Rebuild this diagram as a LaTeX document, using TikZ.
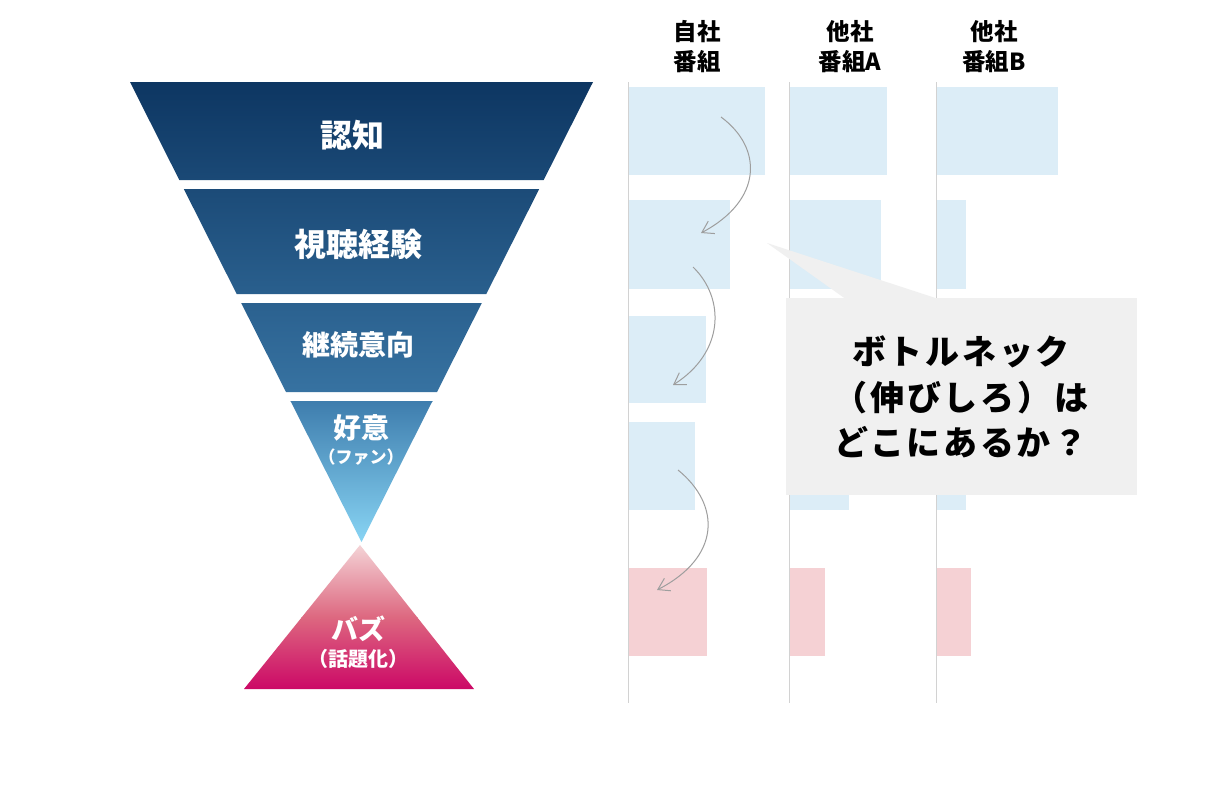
\documentclass[tikz,border=0pt]{standalone}
\usepackage{fontspec}
\setmainfont{Noto Sans CJK JP}
\usetikzlibrary{arrows.meta}
\definecolor{barblue}{HTML}{DCEDF7}
\definecolor{barpink}{HTML}{F5D1D4}
\definecolor{fnavy}{HTML}{0D3662}
\definecolor{fmid}{HTML}{3874A3}
\definecolor{fmidb}{HTML}{3E7DAD}
\definecolor{flight}{HTML}{88D4F4}
\definecolor{ppale}{HTML}{F4D3D6}
\definecolor{prose}{HTML}{DD6880}
\definecolor{pdeep}{HTML}{CC0866}
\definecolor{callgray}{HTML}{F0F0F0}
\definecolor{axisgray}{HTML}{D2D2D2}
\definecolor{arrowgray}{HTML}{9E9E9E}
\begin{document}
\begin{tikzpicture}[x=1pt,y=-1pt,
  stagetext/.style={text=white,font=\bfseries\fontsize{#1}{#1}\selectfont,inner sep=0pt},
  subtext/.style={text=white,font=\bfseries\fontsize{#1}{#1}\selectfont,inner sep=0pt},
  headtext/.style={text=black,font=\bfseries\fontsize{23.5}{30}\selectfont,align=center,inner sep=0pt},
  bluebar/.style={fill=barblue},
  pinkbar/.style={fill=barpink},
  axisline/.style={draw=axisgray,line width=1pt},
  flowarrow/.style={draw=arrowgray,line width=1pt,-{Straight Barb[length=11pt,width=14pt,line width=1pt]}},
  calloutbox/.style={fill=callgray,draw=none},
  calltext/.style={text=black,font=\bfseries\fontsize{34}{45.5}\selectfont\addfontfeature{LetterSpace=8},align=center,inner sep=0pt}
]
\useasboundingbox (0,0) rectangle (1212,784);
\fill[white] (0,0) rectangle (1212,784);

% ---------------- funnel ----------------
\begin{scope}
\clip (130,82) -- (593,82) -- (543.7,180) -- (179.3,180) -- cycle
      (183.8,189) -- (539.2,189) -- (486.3,294) -- (236.7,294) -- cycle
      (241.2,303) -- (481.8,303) -- (437,392) -- (286,392) -- cycle
      (290.5,401) -- (432.5,401) -- (361.5,542) -- cycle;
\shade[top color=fnavy, bottom color=fmid] (120,82) rectangle (600,401);
\shade[top color=fmidb, bottom color=flight] (120,401) rectangle (600,542);
\end{scope}

% ---------------- buzz triangle ----------------
\begin{scope}
\clip (360,545) -- (474,689) -- (244,689) -- cycle;
\shade[top color=ppale, bottom color=prose] (230,545) rectangle (490,617);
\shade[top color=prose, bottom color=pdeep] (230,617) rectangle (490,689);
\end{scope}

\node[stagetext=32] (s1) at (352,135) {認知};
\node[stagetext=32] (s2) at (358,244) {視聴経験};
\node[stagetext=28] (s3) at (358,345) {継続意向};
\node[stagetext=28] (s4) at (361,428) {好意};
\node[subtext=17] (s4b) at (361,457) {（ファン）};
\node[stagetext=27] (s5) at (358,629) {バズ};
\node[subtext=20] (s5b) at (358,659) {（話題化）};

% ---------------- headers ----------------
\node[headtext] (h1) at (697,47) {自社\\番組};
\node[headtext] (h2) at (850,47) {他社\\番組A};
\node[headtext] (h3) at (994,47) {他社\\番組B};

% ---------------- axis lines ----------------
\draw[axisline] (628,82) -- (628,703);
\draw[axisline] (789,82) -- (789,703);
\draw[axisline] (936,82) -- (936,703);

% ---------------- bars ----------------
% column 1
\fill[bluebar] (629,87) rectangle (765,175);
\fill[bluebar] (629,200) rectangle (730,289);
\fill[bluebar] (629,316) rectangle (706,403);
\fill[bluebar] (629,422) rectangle (695,510);
\fill[pinkbar] (629,568) rectangle (707,656);
% column 2
\fill[bluebar] (790,87) rectangle (887,175);
\fill[bluebar] (790,200) rectangle (881,289);
\fill[bluebar] (790,422) rectangle (849,510);
\fill[pinkbar] (790,568) rectangle (825,656);
% column 3
\fill[bluebar] (937,87) rectangle (1058,175);
\fill[bluebar] (937,200) rectangle (966,289);
\fill[bluebar] (937,422) rectangle (966,510);
\fill[pinkbar] (937,568) rectangle (971,656);

% ---------------- flow arrows ----------------
\coordinate (a1s) at (721,117);
\coordinate (a1e) at (701,233);
\coordinate (a2s) at (693,267);
\coordinate (a2e) at (673,385);
\coordinate (a3s) at (678,470);
\coordinate (a3e) at (657,590);
\draw[flowarrow] (a1s) .. controls (763,148) and (763,200) .. (a1e);
\draw[flowarrow] (a2s) .. controls (725,298) and (725,352) .. (a2e);
\draw[flowarrow] (a3s) .. controls (721,505) and (721,557) .. (a3e);

% ---------------- callout ----------------
\coordinate (ptip) at (767,243);
\node[calloutbox, minimum width=351pt, minimum height=197pt, inner sep=0pt] (box) at (961.5,396.5) {};
\fill[callgray] (ptip) -- (845,298.5) -- (937,298.5) -- cycle;
\node[calltext] (q) at (961,397) {ボトルネック\\（伸びしろ）は\\どこにあるか？};
\end{tikzpicture}
\end{document}
